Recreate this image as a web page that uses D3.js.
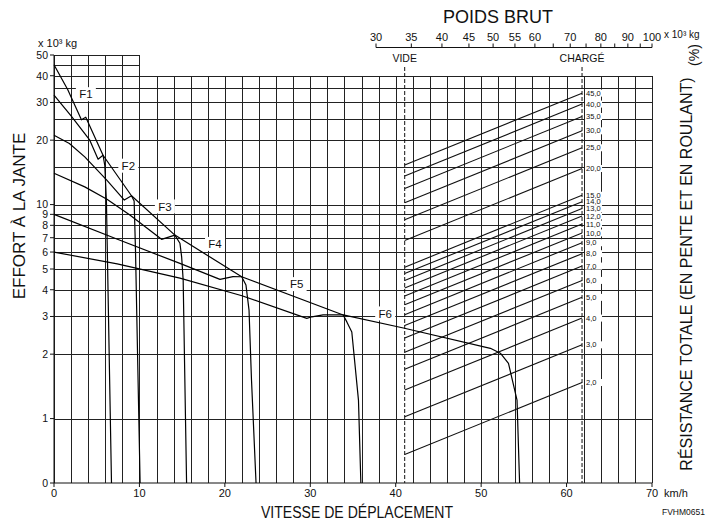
<!DOCTYPE html>
<html>
<head>
<meta charset="utf-8">
<script src="https://cdn.jsdelivr.net/npm/d3@7"></script>
<style>
  body { margin: 0; background: #fff; }
  svg text { font-family: "Liberation Sans", Arial, sans-serif; fill: #111; }
</style>
</head>
<body>
<div id="container"></div>
<script>
const width = 706;
const height = 523;

// rimpull per gear: [km/h, effort x 10^3 kg], 0 = bottom of chart
const f1 = [[0, 45], [1.6, 34.5], [3.21, 24.9], [3.72, 25.6], [5.74, 17.0], [5.95, 15.2], [6.14, 10.2], [6.73, 0]];
const f2 = [[0, 32.5], [2.0, 26.0], [4.19, 20.0], [5.16, 16.3], [5.74, 17.0], [9.07, 11.0], [9.38, 10.4], [9.54, 6.1], [10.08, 0]];
const f3 = [[0, 21.1], [1.8, 19.3], [3.6, 16.7], [6.18, 13.0], [8.23, 10.5], [9.07, 11.0], [14.15, 7.2], [14.74, 6.6], [14.94, 5.7], [15.12, 4.44], [15.52, 0]];
const f4 = [[0, 14.0], [3.6, 12.1], [6.2, 10.6], [8.88, 8.93], [12.59, 6.88], [14.15, 7.2], [21.97, 4.6], [22.47, 4.21], [22.83, 3.21], [23.12, 1.51], [23.65, 0]];
const f5 = [[0, 9.0], [7.35, 6.9], [14.74, 5.31], [19.43, 4.47], [20.95, 4.61], [21.97, 4.6], [33.85, 3.05], [34.28, 2.83], [34.86, 2.54], [35.64, 1.22], [35.92, 0]];
const f6 = [[0, 6.0], [7.4, 5.28], [14.74, 4.53], [22, 3.75], [29.59, 2.94], [30.18, 2.99], [31.5, 3.05], [33.85, 3.05], [40.9, 2.65], [51.08, 2.13], [52.25, 2.02], [53.2, 1.81], [54.2, 1.22], [54.5, 0]];

const gearNames = ['F1', 'F2', 'F3', 'F4', 'F5', 'F6'];
const gearLabelPos = [[3.73, 32.8], [8.7, 15.2], [12.98, 9.8], [18.85, 6.55], [28.4, 4.25], [38.77, 3.1]];

// total resistance (%) lines between empty and loaded weight
const resistance = [2, 3, 4, 5, 6, 7, 8, 9, 10, 11, 12, 13, 14, 15, 20, 25, 30, 35, 40, 45];
const weightEmpty = 34.0;
const weightLoaded = 73.7;
const weightTicks = [30, 35, 40, 45, 50, 55, 60, 65, 70, 75, 80, 85, 90, 95, 100];
const weightLabels = [30, 35, 40, 45, 50, 55, 60, 70, 80, 90, 100];

const effortTicks = [0, 1, 2, 3, 4, 5, 6, 7, 8, 9, 10, 20, 30, 40, 50];
const effortGrid = [1, 2, 3, 4, 5, 6, 7, 8, 9, 10, 15, 20, 25, 30, 35, 40];
const effortGridTop = [45, 50];
const speedTicks = [0, 10, 20, 30, 40, 50, 60, 70];
const speedGrid = d3.range(0, 71, 2);

const x = d3.scaleLinear().domain([0, 70]).range([54, 652]);
const y = d3.scaleLog().domain([0.5, 50]).range([483, 55]);
const yv = v => y(Math.max(v, 0.5));
const w = d3.scaleLog().domain([30, 100]).range([376, 652]);

const svg = d3.select('#container').append('svg')
    .attr('width', width)
    .attr('height', height);

// grid
let grid = svg.append('g')
    .attr('stroke', '#222')
    .attr('stroke-width', 1)
    .attr('shape-rendering', 'crispEdges');

grid.selectAll('.vg')
    .data(speedGrid)
    .join('line')
    .attr('x1', d => Math.round(x(d)) + 0.5)
    .attr('x2', d => Math.round(x(d)) + 0.5)
    .attr('y1', y(0.5))
    .attr('y2', d => d <= 10 ? y(50) : y(40));

grid.selectAll('.hg')
    .data(effortGrid)
    .join('line')
    .attr('x1', x(0))
    .attr('x2', x(70))
    .attr('y1', d => Math.round(y(d)) + 0.5)
    .attr('y2', d => Math.round(y(d)) + 0.5);

grid.selectAll('.ht')
    .data(effortGridTop)
    .join('line')
    .attr('x1', x(0))
    .attr('x2', x(10))
    .attr('y1', d => Math.round(y(d)) + 0.5)
    .attr('y2', d => Math.round(y(d)) + 0.5);

// bottom axis
svg.append('line')
    .attr('x1', x(0)).attr('x2', x(70))
    .attr('y1', y(0.5)).attr('y2', y(0.5))
    .attr('stroke', '#111');
svg.append('g').selectAll('line')
    .data(speedTicks)
    .join('line')
    .attr('x1', d => x(d)).attr('x2', d => x(d))
    .attr('y1', y(0.5)).attr('y2', y(0.5) + 4)
    .attr('stroke', '#111');
svg.append('g').selectAll('text')
    .data(speedTicks)
    .join('text')
    .attr('x', d => x(d))
    .attr('y', 497)
    .attr('text-anchor', 'middle')
    .attr('font-size', 11)
    .text(d => d);
svg.append('text')
    .attr('x', x(70) + 12)
    .attr('y', 497)
    .attr('font-size', 11)
    .text('km/h');

// left axis
svg.append('line')
    .attr('x1', x(0)).attr('x2', x(0))
    .attr('y1', y(0.5)).attr('y2', y(50))
    .attr('stroke', '#111');
svg.append('g').selectAll('line')
    .data(effortTicks)
    .join('line')
    .attr('x1', x(0) - 4).attr('x2', x(0))
    .attr('y1', d => yv(d)).attr('y2', d => yv(d))
    .attr('stroke', '#111');
svg.append('g').selectAll('text')
    .data(effortTicks)
    .join('text')
    .attr('x', x(0) - 6)
    .attr('y', d => yv(d))
    .attr('dy', '0.36em')
    .attr('text-anchor', 'end')
    .attr('font-size', 10.5)
    .text(d => d);
svg.append('text')
    .attr('x', 38).attr('y', 47)
    .attr('font-size', 11)
    .text('x 10³ kg');

// weight axis
svg.append('line')
    .attr('x1', w(30)).attr('x2', w(100))
    .attr('y1', 47.5).attr('y2', 47.5)
    .attr('stroke', '#111');
svg.append('g').selectAll('line')
    .data(weightTicks)
    .join('line')
    .attr('x1', d => w(d)).attr('x2', d => w(d))
    .attr('y1', 47.5).attr('y2', 43.5)
    .attr('stroke', '#111');
svg.append('g').selectAll('text')
    .data(weightLabels)
    .join('text')
    .attr('x', d => w(d))
    .attr('y', 41)
    .attr('text-anchor', 'middle')
    .attr('font-size', 11)
    .text(d => d);
svg.append('text')
    .attr('x', 664).attr('y', 38)
    .attr('font-size', 10)
    .text('x 10³ kg');
svg.append('text')
    .attr('x', 498).attr('y', 23)
    .attr('text-anchor', 'middle')
    .attr('font-size', 18)
    .text('POIDS BRUT');

// empty / loaded markers
[[weightEmpty, 'VIDE'], [weightLoaded, 'CHARGÉ']].forEach(([wt, name]) => {
    svg.append('text')
        .attr('x', w(wt)).attr('y', 62)
        .attr('text-anchor', 'middle')
        .attr('font-size', 10.5)
        .text(name);
    svg.append('line')
        .attr('x1', w(wt)).attr('x2', w(wt))
        .attr('y1', 67).attr('y2', y(0.5))
        .attr('stroke', '#111')
        .attr('stroke-dasharray', '4,2');
});

// resistance lines
svg.append('g').selectAll('line')
    .data(resistance)
    .join('line')
    .attr('x1', w(weightEmpty))
    .attr('y1', d => y(d * weightEmpty / 100))
    .attr('x2', w(weightLoaded))
    .attr('y2', d => y(d * weightLoaded / 100))
    .attr('stroke', '#111')
    .attr('stroke-width', 1.1);

let resLabel = svg.append('g').selectAll('g')
    .data(resistance)
    .join('g')
    .attr('transform', d => 'translate(' + (w(weightLoaded) + 4) + ',' + y(d * weightLoaded / 100) + ')');
resLabel.append('rect')
    .attr('x', -1).attr('y', -3.5)
    .attr('width', 17).attr('height', 7)
    .attr('fill', '#fff');
resLabel.append('text')
    .attr('dy', '0.35em')
    .attr('font-size', 7.5)
    .text(d => d.toFixed(1).replace('.', ','));

// gear labels
let gl = svg.append('g').selectAll('g')
    .data(gearNames)
    .join('g')
    .attr('transform', (d, i) => 'translate(' + x(gearLabelPos[i][0]) + ',' + y(gearLabelPos[i][1]) + ')');
gl.append('rect')
    .attr('x', -10).attr('y', -7)
    .attr('width', 20).attr('height', 14)
    .attr('fill', '#fff');
gl.append('text')
    .attr('text-anchor', 'middle')
    .attr('dy', '0.36em')
    .attr('font-size', 11.5)
    .text(d => d);

// rimpull curves
const line = d3.line().x(d => x(d[0])).y(d => yv(d[1]));
svg.append('g').selectAll('path')
    .data([f1, f2, f3, f4, f5, f6])
    .join('path')
    .attr('d', line)
    .attr('fill', 'none')
    .attr('stroke', '#000')
    .attr('stroke-width', 1.2)
    .attr('stroke-linejoin', 'round');

// titles
svg.append('text')
    .attr('transform', 'translate(25,216) rotate(-90)')
    .attr('text-anchor', 'middle')
    .attr('font-size', 17)
    .text('EFFORT À LA JANTE');
svg.append('text')
    .attr('transform', 'translate(692,274) rotate(-90)')
    .attr('text-anchor', 'middle')
    .attr('font-size', 16)
    .text('RÉSISTANCE TOTALE (EN PENTE ET EN ROULANT)');
svg.append('text')
    .attr('transform', 'translate(699,55) rotate(-90)')
    .attr('text-anchor', 'middle')
    .attr('font-size', 14)
    .text('(%)');
svg.append('text')
    .attr('x', 357).attr('y', 518)
    .attr('text-anchor', 'middle')
    .attr('font-size', 16)
    .attr('textLength', 192)
    .attr('lengthAdjust', 'spacingAndGlyphs')
    .text('VITESSE DE DÉPLACEMENT');
svg.append('text')
    .attr('x', 705).attr('y', 515)
    .attr('text-anchor', 'end')
    .attr('font-size', 8.5)
    .text('FVHM0651');
</script>
</body>
</html>
